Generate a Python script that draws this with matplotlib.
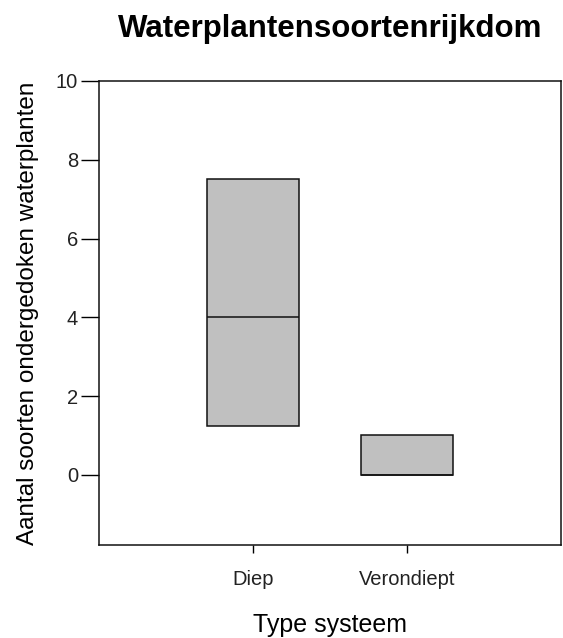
import matplotlib
matplotlib.use("Agg")
import matplotlib.pyplot as plt

categories = ["Diep", "Verondiept"]
q1 = [1.25, 0.0]
medians = [4.0, 0.0]
q3 = [7.5, 1.0]
yticks = [0, 2, 4, 6, 8, 10]

plt.rcParams['font.family'] = ['Liberation Sans', 'DejaVu Sans']

fig = plt.figure(figsize=(5.63, 6.38), dpi=100)
ax = fig.add_axes([99/563, 1-545/638, 462/563, 464/638])

stats = []
for c, a, m, b in zip(categories, q1, medians, q3):
    stats.append(dict(label=c, q1=a, med=m, q3=b, whislo=a, whishi=b, fliers=[]))
positions = list(range(1, len(categories)+1))
ax.bxp(stats, positions=positions, widths=0.6, patch_artist=True, showcaps=False,
       showfliers=False,
       boxprops=dict(facecolor='#c0c0c0', edgecolor='#111111', linewidth=1.1),
       medianprops=dict(color='#111111', linewidth=1.1),
       whiskerprops=dict(linewidth=0))

ax.set_xlim(0, 3)
ax.set_ylim(-1.78, 10)
ax.set_yticks(yticks)
ax.set_xticks(positions)
ax.set_xticklabels(categories)
for s in ax.spines.values():
    s.set_linewidth(1.1)
    s.set_color('#111111')
ax.tick_params(axis='y', length=13, width=1, pad=2, labelsize=14.5, labelcolor='#222222')
ax.tick_params(axis='x', length=6, width=1, pad=12, labelsize=14.5, labelcolor='#222222')

ax.set_ylabel("Aantal soorten ondergedoken waterplanten", fontsize=17.5, labelpad=12)
ax.set_xlabel("Type systeem", fontsize=18, labelpad=17)
ax.set_title("Waterplantensoortenrijkdom", fontsize=22.5, fontweight='bold', pad=32)

fig.savefig("out.png", dpi=100)
